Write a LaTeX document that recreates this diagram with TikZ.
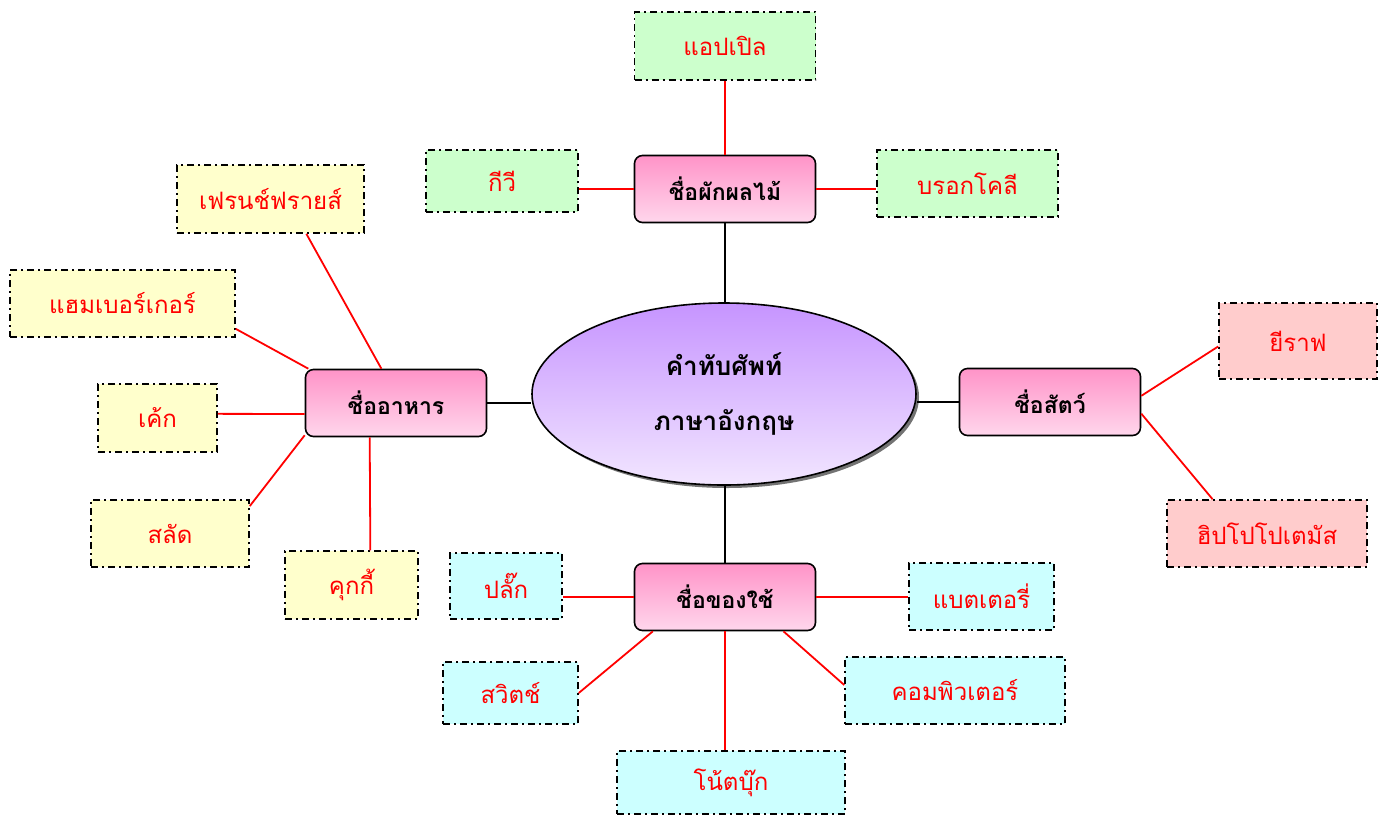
\documentclass[tikz,border=0pt]{standalone}
\usepackage{fontspec}
\newfontfamily\thai[Script=Thai]{Loma}
\usetikzlibrary{calc,shadows,shapes.geometric}
\definecolor{leafgreen}{HTML}{CCFFCC}
\definecolor{leafyellow}{HTML}{FFFFCC}
\definecolor{leafpink}{HTML}{FFCCCC}
\definecolor{leafcyan}{HTML}{CCFFFF}
\definecolor{hubtop}{RGB}{255,148,200}
\definecolor{hubbot}{RGB}{255,214,236}
\definecolor{elltop}{RGB}{198,148,255}
\definecolor{ellbot}{RGB}{242,230,255}
\definecolor{linkred}{RGB}{255,0,0}
\tikzset{
  leafbox/.style={draw=black, line width=1.5pt, dash pattern=on 7pt off 4pt on 2pt off 4pt,
    text=red, font=\thai\fontsize{24}{28}\selectfont, inner sep=0pt, anchor=center},
  hubbox/.style={draw=black, line width=1.6pt, rounded corners=8pt, top color=hubtop, bottom color=hubbot,
    minimum width=181pt, minimum height=67pt, font=\thai\bfseries\fontsize{23}{27}\selectfont,
    text=black, inner sep=0pt, anchor=center},
  mainell/.style={ellipse, draw=black, line width=1.6pt, top color=elltop, bottom color=ellbot,
    minimum width=384pt, minimum height=182pt, inner sep=0pt, align=center,
    font=\thai\bfseries\fontsize{26}{55}\selectfont,
    drop shadow={shadow xshift=3pt, shadow yshift=-3pt, fill=black!55, opacity=1}},
  redlink/.style={draw=linkred, line width=1.8pt},
  blacklink/.style={draw=black, line width=1.8pt}
}
\begin{document}
\begin{tikzpicture}[x=1pt,y=-1pt]
\useasboundingbox (0,0) rectangle (1383,815);
% centre
\node[mainell] (center) at (724,394) {คำทับศัพท์\\ภาษาอังกฤษ};
% hubs
\node[hubbox] (fruit) at (725,189) {ชื่อผักผลไม้};
\node[hubbox] (food) at (396,403) {ชื่ออาหาร};
\node[hubbox] (animal) at (1050,402) {ชื่อสัตว์};
\node[hubbox] (util) at (725,597) {ชื่อของใช้};
% fruit leaves
\node[leafbox, fill=leafgreen, minimum width=181pt, minimum height=68pt] (apple) at (725,46) {แอปเปิล};
\node[leafbox, fill=leafgreen, minimum width=152pt, minimum height=62pt] (kiwi) at (502,181) {กีวี};
\node[leafbox, fill=leafgreen, minimum width=181pt, minimum height=67pt] (broc) at (967.5,183.5) {บรอกโคลี};
% food leaves
\node[leafbox, fill=leafyellow, minimum width=187pt, minimum height=68pt] (fries) at (270.5,199) {เฟรนช์ฟรายส์};
\node[leafbox, fill=leafyellow, minimum width=225pt, minimum height=67pt] (ham) at (122.5,303.5) {แฮมเบอร์เกอร์};
\node[leafbox, fill=leafyellow, minimum width=119pt, minimum height=68pt] (cake) at (157.5,418) {เค้ก};
\node[leafbox, fill=leafyellow, minimum width=158pt, minimum height=67pt] (salad) at (170,533.5) {สลัด};
\node[leafbox, fill=leafyellow, minimum width=133pt, minimum height=68pt] (cookie) at (351.5,585) {คุกกี้};
% animal leaves
\node[leafbox, fill=leafpink, minimum width=158pt, minimum height=76pt] (giraffe) at (1298,341) {ยีราฟ};
\node[leafbox, fill=leafpink, minimum width=200pt, minimum height=67pt] (hippo) at (1267,533.5) {ฮิปโปโปเตมัส};
% utensil leaves
\node[leafbox, fill=leafcyan, minimum width=112pt, minimum height=66pt] (plug) at (506,586) {ปลั๊ก};
\node[leafbox, fill=leafcyan, minimum width=145pt, minimum height=67pt] (batt) at (981.5,596.5) {แบตเตอรี่};
\node[leafbox, fill=leafcyan, minimum width=135pt, minimum height=62pt] (switch) at (510.5,693) {สวิตช์};
\node[leafbox, fill=leafcyan, minimum width=220pt, minimum height=67pt] (comp) at (955,690.5) {คอมพิวเตอร์};
\node[leafbox, fill=leafcyan, minimum width=228pt, minimum height=63pt] (note) at (731,782.5) {โน้ตบุ๊ก};
% black links
\draw[blacklink] (fruit.south) -- (fruit.south |- center.north);
\draw[blacklink] (food.east) -- (food.east -| center.west);
\draw[blacklink] (center.east |- animal.west) -- (animal.west);
\draw[blacklink] (util.north |- center.south) -- (util.north);
% fruit links
\draw[redlink] (apple.south) -- (fruit.north);
\draw[redlink] (fruit.west) -- (kiwi.east |- fruit.west);
\draw[redlink] (fruit.east) -- (broc.west |- fruit.east);
% food links
\draw[redlink] ($(fries.south west)!0.69!(fries.south east)$) -- ($(food.north west)!0.42!(food.north east)$);
\draw[redlink] ($(ham.north east)!0.87!(ham.south east)$) -- ($(food.north west)!0.02!(food.north east)$);
\draw[redlink] ($(cake.north east)!0.44!(cake.south east)$) -- ($(food.north west)!0.66!(food.south west)$);
\draw[redlink] ($(salad.north east)!0.1!(salad.south east)$) -- ($(food.north west)!0.97!(food.south west)$);
\draw[redlink] ($(food.south west)!0.356!(food.south east)$) -- ($(cookie.north west)!0.64!(cookie.north east)$);
% animal links
\draw[redlink] ($(animal.north east)!0.41!(animal.south east)$) -- ($(giraffe.north west)!0.57!(giraffe.south west)$);
\draw[redlink] ($(animal.north east)!0.67!(animal.south east)$) -- ($(hippo.north west)!0.23!(hippo.north east)$);
% utensil links
\draw[redlink] (util.west) -- (plug.east |- util.west);
\draw[redlink] (util.east) -- (batt.west |- util.east);
\draw[redlink] ($(util.south west)!0.105!(util.south east)$) -- (switch.east);
\draw[redlink] ($(util.south west)!0.82!(util.south east)$) -- ($(comp.north west)!0.42!(comp.south west)$);
\draw[redlink] (util.south) -- (util.south |- note.north);
\end{tikzpicture}
\end{document}
